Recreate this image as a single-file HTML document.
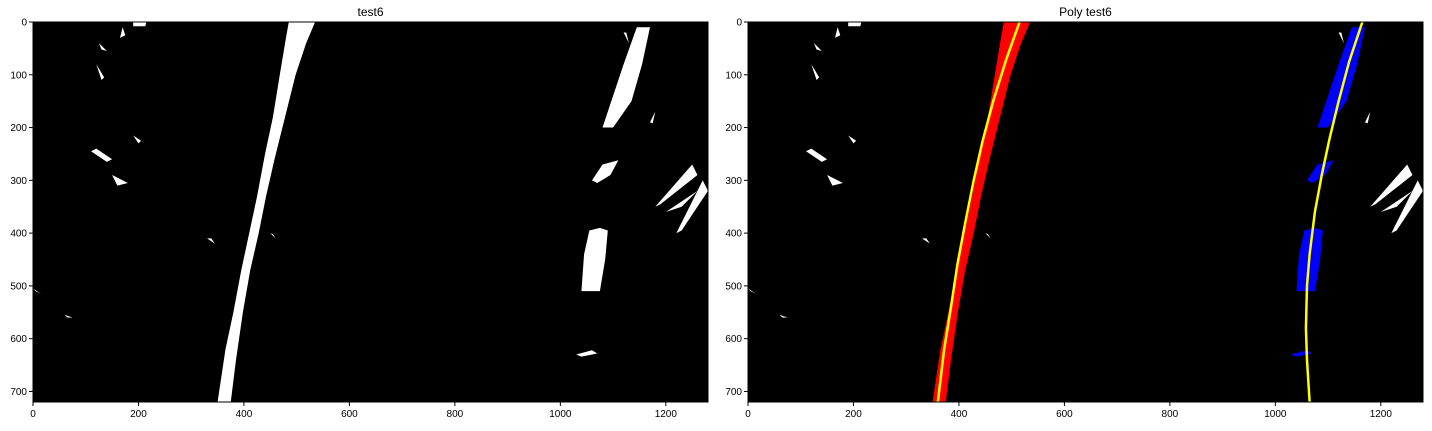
<!DOCTYPE html>
<html><head><meta charset="utf-8"><style>
body{margin:0;background:#fff;width:1432px;height:426px;overflow:hidden;font-family:"Liberation Sans",sans-serif}
svg text{font-family:"Liberation Sans",sans-serif;font-size:10px;fill:#000}
</style></head><body>
<svg id="c" width="1432" height="426"></svg>
<script>
const xTicks=[0,200,400,600,800,1000,1200];
const yTicks=[0,100,200,300,400,500,600,700];
const leftLaneL=[[350,720],[365,620],[380,550],[395,470],[410,400],[425,330],[440,250],[455,180],[468,100],[478,40],[485,0]];
const leftLaneR=[[375,720],[385,640],[398,550],[412,470],[428,400],[442,330],[458,260],[478,180],[498,100],[518,40],[535,0]];
const rightSegs=[
 [[1080,200],[1100,140],[1120,80],[1145,10],[1170,10],[1155,80],[1135,150],[1100,200]],
 [[1060,300],[1080,270],[1110,262],[1095,290],[1070,305]],
 [[1040,510],[1045,440],[1055,395],[1075,390],[1090,395],[1085,450],[1075,510]],
 [[1030,630],[1060,622],[1070,628],[1040,634]]
];
const blobs=[
 [[190,0],[215,0],[213,8],[190,8]],[[170,10],[165,30],[175,25]],[[125,40],[140,55],[130,52]],[[120,80],[130,110],[135,105]],
 [[190,215],[205,225],[200,230]],[[120,240],[150,260],[140,265],[110,245]],[[150,290],[180,305],[160,310]],
 [[1250,270],[1180,350],[1190,345],[1260,290]],[[1200,360],[1260,320],[1230,350]],[[1270,300],[1220,400],[1230,395],[1280,320]],
 [[330,410],[345,420],[338,410]],[[450,400],[460,410],[455,402]],[[0,505],[15,515],[5,510]],[[60,555],[75,560],[65,560]],
 [[1120,20],[1130,40],[1125,20]],[[1180,170],[1170,190],[1175,192]]
];
const leftFit=[[360,720],[372,620],[385,540],[397,460],[412,380],[428,300],[445,225],[465,150],[490,70],[515,0]];
const rightFit=[[1065,720],[1060,640],[1058,580],[1060,500],[1065,440],[1075,360],[1088,290],[1103,220],[1120,150],[1140,75],[1165,0]];
const svg=document.getElementById('c');const NS='http://www.w3.org/2000/svg';
function mk(t,a,p){const e=document.createElementNS(NS,t);for(const k in a)e.setAttribute(k,a[k]);p.appendChild(e);return e;}
const W=675,H=380,TOP=22;
function panel(x0,title,poly,name){
 const g=mk('g',{},svg);
 
 
 const sx=v=>x0+v*W/1280, sy=v=>TOP+v*H/720;
 const bg=mk('rect',{x:x0,y:TOP,width:W,height:H,fill:'#000'},g);
 
 
 const pts=a=>a.map(p=>sx(p[0])+','+sy(p[1])).join(' ');
 const lane=leftLaneL.concat(leftLaneR.slice().reverse());
 const l=mk('polygon',{points:pts(lane),fill:poly?'#f00':'#fff'},g);
 
 
 rightSegs.forEach(s=>{const r=mk('polygon',{points:pts(s),fill:poly?'#00f':'#fff'},g);
  
  });
 blobs.forEach(s=>{const b=mk('polygon',{points:pts(s),fill:'#fff'},g);
  
  });
 if(poly){[leftFit,rightFit].forEach((f,i)=>{const pl=mk('polyline',{points:pts(f),fill:'none',stroke:'#ff0','stroke-width':2.5},g);
  
  });}
 mk('rect',{x:x0,y:TOP,width:W,height:H,fill:'none',stroke:'#000','stroke-width':1},g);
 xTicks.forEach(v=>{mk('line',{x1:sx(v),x2:sx(v),y1:TOP+H,y2:TOP+H+4,stroke:'#000'},g);
  const t=mk('text',{x:sx(v),y:TOP+H+15,'text-anchor':'middle'},g);t.textContent=v;
  
  });
 yTicks.forEach(v=>{mk('line',{x1:x0-4,x2:x0,y1:sy(v),y2:sy(v),stroke:'#000'},g);
  const t=mk('text',{x:x0-6,y:sy(v)+3.5,'text-anchor':'end'},g);t.textContent=v;
  
  });
 const tt=mk('text',{x:x0+W/2,y:16,'text-anchor':'middle',style:'font-size:12px'},g);tt.textContent=title;
 
 
}
panel(33,'test6',false,'binary-panel');
panel(748,'Poly test6',true,'poly-panel');
</script>
</body></html>
